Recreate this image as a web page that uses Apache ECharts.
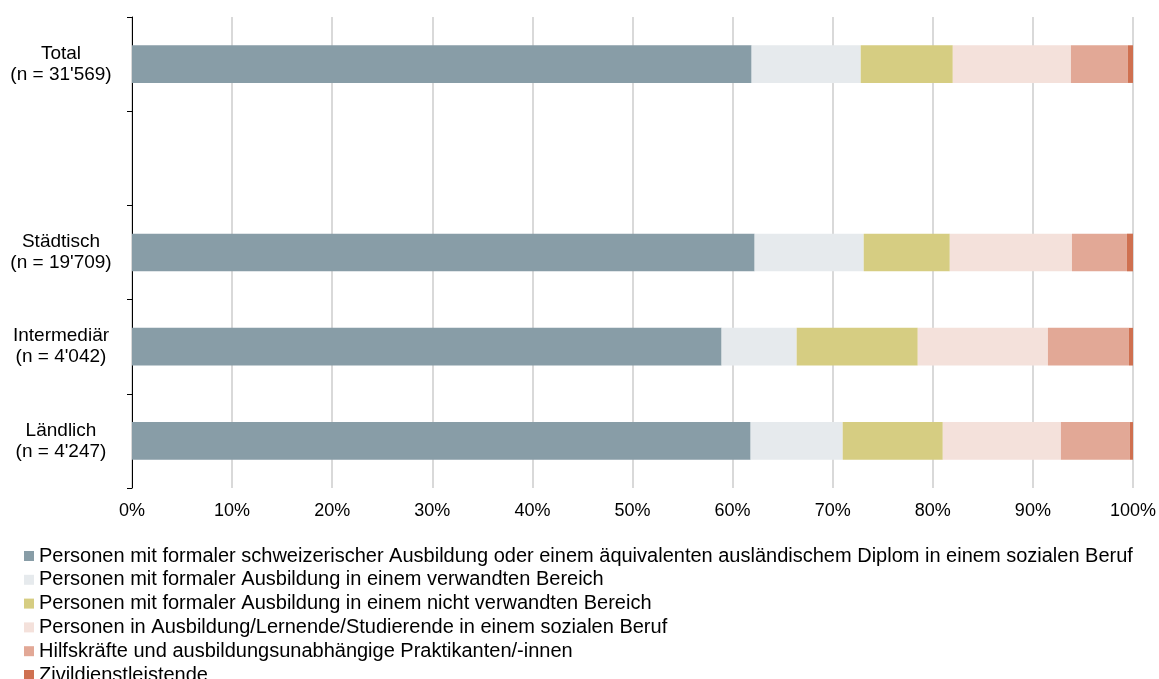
<!DOCTYPE html>
<html>
<head>
<meta charset="utf-8">
<script src="https://cdn.jsdelivr.net/npm/echarts@6/dist/echarts.min.js"></script>
<style>
  html, body { margin: 0; padding: 0; background: #fff; }
  #chart { width: 1159px; height: 679px; }
</style>
</head>
<body>
<div id="chart"></div>
<script>
// Regional groups (the empty slot separates the total from the breakdown)
const categories = ["Total\n(n = 31'569)", "", "Städtisch\n(n = 19'709)", "Intermediär\n(n = 4'042)", "Ländlich\n(n = 4'247)"];

const seriesNames = [
  "Personen mit formaler schweizerischer Ausbildung oder einem äquivalenten ausländischem Diplom in einem sozialen Beruf",
  "Personen mit formaler Ausbildung in einem verwandten Bereich",
  "Personen mit formaler Ausbildung in einem nicht verwandten Bereich",
  "Personen in Ausbildung/Lernende/Studierende in einem sozialen Beruf",
  "Hilfskräfte und ausbildungsunabhängige Praktikanten/-innen",
  "Zivildienstleistende"
];

// Shares in percent, one value per category
const formalSozial     = [61.9, null, 62.2, 58.9, 61.8];
const formalVerwandt   = [10.9, null, 10.9, 7.5, 9.2];
const formalNicht      = [9.2, null, 8.6, 12.1, 10.0];
const inAusbildung     = [11.8, null, 12.2, 13.0, 11.8];
const hilfskraefte     = [5.7, null, 5.5, 8.1, 6.9];
const zivildienst      = [0.5, null, 0.6, 0.4, 0.3];

const seriesData = [formalSozial, formalVerwandt, formalNicht, inAusbildung, hilfskraefte, zivildienst];
const colors = ['#889DA7', '#E6EAED', '#D6CD82', '#F4E1DB', '#E2A896', '#CF7050'];

const xTicks = [0, 10, 20, 30, 40, 50, 60, 70, 80, 90, 100];

const font = '"Liberation Sans", Arial, sans-serif';

const chart = echarts.init(document.getElementById('chart'), null, { renderer: 'canvas' });

chart.setOption({
  animation: false,
  color: colors,
  textStyle: { fontFamily: font },
  grid: { left: 132, right: 25, top: 17, bottom: 191, containLabel: false },
  xAxis: {
    type: 'value',
    min: xTicks[0],
    max: xTicks[xTicks.length - 1],
    interval: 10,
    axisLine: { show: false },
    axisTick: { show: false },
    axisLabel: {
      formatter: v => v + '%',
      color: '#000',
      fontSize: 18,
      fontFamily: font,
      margin: 14
    },
    splitLine: { show: true, lineStyle: { color: '#d9d9d9', width: 2 } }
  },
  yAxis: {
    type: 'category',
    data: categories,
    inverse: true,
    axisLine: { show: true, lineStyle: { color: '#000', width: 1 } },
    axisTick: { show: true, length: 5, lineStyle: { color: '#000' } },
    axisLabel: {
      color: '#000',
      fontSize: 19,
      fontFamily: font,
      align: 'center',
      lineHeight: 21,
      margin: 71
    },
    splitLine: { show: false }
  },
  legend: {
    orient: 'vertical',
    left: 24,
    top: 546,
    height: 170,
    padding: 0,
    itemWidth: 10,
    itemHeight: 10,
    itemGap: 3.8,
    icon: 'rect',
    selectedMode: false,
    textStyle: { fontSize: 20, lineHeight: 19, color: '#000', fontFamily: font },
    data: seriesNames
  },
  series: seriesNames.map((name, i) => ({
    name: name,
    type: 'bar',
    stack: 'total',
    barWidth: '40%',
    data: seriesData[i],
    itemStyle: { color: colors[i] }
  }))
});
</script>
</body>
</html>
